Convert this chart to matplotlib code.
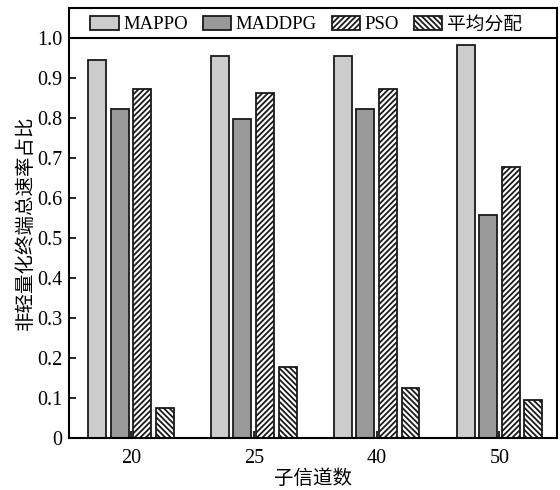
import numpy as np
import matplotlib
matplotlib.use('Agg')
import matplotlib.pyplot as plt

plt.rcParams['font.family'] = ['Liberation Serif', 'Noto Sans CJK SC']
plt.rcParams['hatch.linewidth'] = 1.3

# data
channels = ['20', '25', '40', '50']
methods = ['MAPPO', 'MADDPG', 'PSO', '平均分配']
mappo = [0.944, 0.954, 0.954, 0.981]
maddpg = [0.822, 0.798, 0.822, 0.556]
pso = [0.873, 0.861, 0.873, 0.677]
average = [0.073, 0.176, 0.125, 0.095]

series = [mappo, maddpg, pso, average]
colors = ['#cccccc', '#999999', 'white', 'white']
hatches = [None, None, '//////', '\\\\\\\\\\\\']

fig = plt.figure(figsize=(5.6, 4.9), dpi=100)
ax = fig.add_axes([0.124, 0.107, 0.871, 0.877])

x = np.arange(len(channels))
step = 0.184
width = 0.146
handles = []
for i, (vals, c, h) in enumerate(zip(series, colors, hatches)):
    b = ax.bar(x + (i - 1.5) * step, vals, width=width, color=c,
               edgecolor='#1a1a1a', linewidth=1.3, hatch=h, label=methods[i])
    handles.append(b)

ax.set_xlim(-0.5, 3.47)
ax.set_ylim(0, 1.075)
ax.axhline(1.0, color='black', linewidth=1.5)

ax.set_xticks(x)
ax.set_xticklabels(channels)
ax.set_yticks(np.arange(0, 1.01, 0.1))
ax.set_yticklabels(['0'] + [f'{v:.1f}' for v in np.arange(0.1, 1.01, 0.1)])
ax.tick_params(direction='in', length=5, width=1.2, labelsize=14.5)
ax.tick_params(axis='x', pad=8)
ax.tick_params(axis='y', pad=5)

for s in ax.spines.values():
    s.set_linewidth(1.5)

ax.set_xlabel('子信道数', fontsize=14, labelpad=1)
ax.set_ylabel('非轻量化终端总速率占比', fontsize=14, labelpad=2)

ax.legend(handles=handles, loc='upper left', bbox_to_anchor=(0.02, 1.008),
          ncol=4, frameon=False, fontsize=13.5, handlelength=1.5,
          handleheight=0.8, handletextpad=0.25, columnspacing=0.8,
          borderaxespad=0.2)

plt.savefig('out.png', dpi=100)
